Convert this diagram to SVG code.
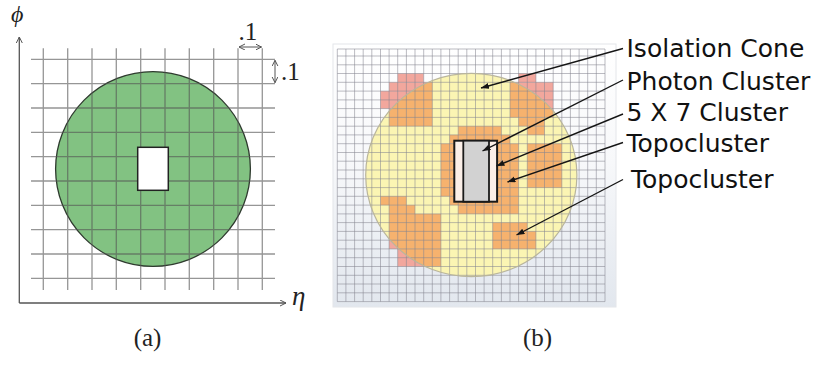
<svg xmlns="http://www.w3.org/2000/svg" width="813" height="367" viewBox="0 0 813 367">
<style>
.serif{font-family:"Liberation Serif","DejaVu Serif",serif;fill:#222}
.sans{font-family:"DejaVu Sans","Liberation Sans",sans-serif;font-size:25px;fill:#111}
.axis{stroke:#555;stroke-width:1.3;fill:none}
.lgrid{stroke:#555;stroke-opacity:0.62;stroke-width:1.3;fill:none}
.rgrid{stroke:#85858f;stroke-opacity:0.55;stroke-width:1;fill:none}
.pink{fill:#f2a79d}
.orange{fill:#f6b26e}
.lead{stroke:#151515;stroke-width:1.4;fill:none;marker-end:url(#head)}
</style>
<defs>
<marker id="open" markerWidth="8" markerHeight="8" refX="6" refY="3" orient="auto-start-reverse" markerUnits="userSpaceOnUse">
<path d="M0,0 L6,3 L0,6" fill="none" stroke="#555" stroke-width="1"/>
</marker>
<marker id="head" markerWidth="10" markerHeight="8" refX="8" refY="3" orient="auto" markerUnits="userSpaceOnUse">
<path d="M0,0 L8,3 L0,6 z" fill="#151515"/>
</marker>
<linearGradient id="bg" x1="0" y1="0" x2="0" y2="1">
<stop offset="0" stop-color="#ffffff"/>
<stop offset="0.45" stop-color="#f7f8fa"/>
<stop offset="1" stop-color="#e2e7ee"/>
</linearGradient>
<clipPath id="cone"><ellipse cx="471.3" cy="175" rx="105.6" ry="101.7"/></clipPath>
<g id="cells">
<rect x="397.7" y="73.5" width="25.9" height="8.8"/>
<rect x="389.1" y="82.3" width="43.2" height="8.8"/>
<rect x="380.5" y="91.1" width="51.8" height="17.5"/>
<rect x="389.1" y="108.6" width="43.2" height="17.6"/>
<rect x="518.6" y="73.5" width="17.3" height="8.8"/>
<rect x="510.0" y="82.3" width="43.2" height="35.1"/>
<rect x="518.6" y="117.4" width="25.9" height="8.8"/>
<rect x="527.3" y="126.2" width="17.2" height="8.7"/>
<rect x="527.3" y="143.7" width="34.5" height="43.9"/>
<rect x="458.2" y="126.2" width="43.2" height="8.7"/>
<rect x="449.6" y="134.9" width="60.4" height="8.8"/>
<rect x="440.9" y="143.7" width="77.7" height="52.6"/>
<rect x="449.6" y="196.3" width="69.0" height="8.8"/>
<rect x="458.2" y="205.1" width="60.4" height="8.8"/>
<rect x="492.7" y="222.6" width="34.6" height="8.8"/>
<rect x="492.7" y="231.4" width="43.2" height="17.5"/>
<rect x="380.5" y="196.3" width="25.9" height="8.8"/>
<rect x="389.1" y="205.1" width="25.9" height="8.8"/>
<rect x="389.1" y="213.9" width="51.8" height="35.0"/>
<rect x="397.7" y="248.9" width="43.2" height="17.6"/>
</g>
</defs>

<g id="panel-a">
<g id="grid-a">
<circle id="cone-a" cx="153" cy="169" r="97.4" fill="#82c282" stroke="#2e3a2e" stroke-width="1.3"/>
<path class="lgrid" d="M43.3 48.3V290M67.7 48.3V290M92 48.3V290M116.3 48.3V290M140.7 48.3V290M165 48.3V290M189.3 48.3V290M213.7 48.3V290M238 48.3V290M262.3 48.3V290M31 59.3H275M31 83.7H275M31 108H275M31 132.3H275M31 156.7H275M31 181H275M31 205.3H275M31 229.7H275M31 254H275M31 278.3H275"/>
<rect id="hole" x="137.7" y="147.3" width="30.6" height="43" fill="#fff" stroke="#222" stroke-width="1.5"/>
</g>
<g id="axes-a">
<path class="axis" d="M19.3 303V37" marker-end="url(#open)"/>
<path class="axis" d="M19.3 303H286" marker-end="url(#open)"/>
<text class="serif" x="11" y="22" font-size="24" font-style="italic">ϕ</text>
<text class="serif" x="292" y="305" font-size="27" font-style="italic">η</text>
</g>
<g id="scale-a">
<path d="M239 47H261.5" stroke="#555" stroke-width="1" fill="none" marker-start="url(#open)" marker-end="url(#open)"/>
<path d="M275 60.3V82.7" stroke="#555" stroke-width="1" fill="none" marker-start="url(#open)" marker-end="url(#open)"/>
<text class="serif" x="238.5" y="39.5" font-size="25">.1</text>
<text class="serif" x="281" y="80" font-size="25">.1</text>
</g>
<text id="cap-a" class="serif" x="147.5" y="346" font-size="25" text-anchor="middle">(a)</text>
</g>

<g id="panel-b">
<rect id="backdrop" x="333" y="44" width="283" height="263" fill="url(#bg)" stroke="#e4e6ea" stroke-width="1"/>
<use href="#cells" class="pink"/>
<ellipse id="cone-b" cx="471.3" cy="175" rx="105.6" ry="101.7" fill="#fbf5b3"/>
<g clip-path="url(#cone)"><use href="#cells" class="orange"/></g>
<path class="rgrid" d="M337.3 49V301.6M345.9 49V301.6M354.6 49V301.6M363.2 49V301.6M371.8 49V301.6M380.5 49V301.6M389.1 49V301.6M397.7 49V301.6M406.4 49V301.6M415 49V301.6M423.7 49V301.6M432.3 49V301.6M440.9 49V301.6M449.6 49V301.6M458.2 49V301.6M466.8 49V301.6M475.5 49V301.6M484.1 49V301.6M492.7 49V301.6M501.4 49V301.6M510 49V301.6M518.6 49V301.6M527.3 49V301.6M535.9 49V301.6M544.5 49V301.6M553.2 49V301.6M561.8 49V301.6M570.4 49V301.6M579.1 49V301.6M587.7 49V301.6M596.3 49V301.6M605 49V301.6M337.3 49H605M337.3 56H605M337.3 64.8H605M337.3 73.5H605M337.3 82.3H605M337.3 91.1H605M337.3 99.9H605M337.3 108.6H605M337.3 117.4H605M337.3 126.2H605M337.3 134.9H605M337.3 143.7H605M337.3 152.5H605M337.3 161.2H605M337.3 170H605M337.3 178.8H605M337.3 187.6H605M337.3 196.3H605M337.3 205.1H605M337.3 213.9H605M337.3 222.6H605M337.3 231.4H605M337.3 240.2H605M337.3 248.9H605M337.3 257.7H605M337.3 266.5H605M337.3 275.3H605M337.3 284H605M337.3 292.8H605M337.3 301.6H605"/>
<ellipse cx="471.3" cy="175" rx="105.6" ry="101.7" fill="none" stroke="#b9b59c" stroke-width="1.2"/>
<g id="cluster-5x7">
<rect x="454.3" y="140.7" width="42.8" height="61" fill="#fbefe8" stroke="#1a1a1a" stroke-width="2"/>
<rect x="463.3" y="140.7" width="25.7" height="61" fill="#d2d2d2" stroke="#1a1a1a" stroke-width="1.8"/>
</g>
<text id="cap-b" class="serif" x="537.5" y="346" font-size="25" text-anchor="middle">(b)</text>
</g>

<g id="connectors">
<path class="lead" d="M623 48.5L481 88"/>
<path class="lead" d="M623 80L482.5 151"/>
<path class="lead" d="M623 114L496.5 166"/>
<path class="lead" d="M623 142.5L507.5 182"/>
<path class="lead" d="M623 179.5L516.5 235"/>
</g>

<g id="label-isolation"><text class="sans" x="626.5" y="56.5">Isolation Cone</text></g>
<g id="label-photon"><text class="sans" x="626.5" y="90">Photon Cluster</text></g>
<g id="label-5x7"><text class="sans" x="626.5" y="121">5 X 7 Cluster</text></g>
<g id="label-topo1"><text class="sans" x="626.5" y="152">Topocluster</text></g>
<g id="label-topo2"><text class="sans" x="631" y="188">Topocluster</text></g>
</svg>
